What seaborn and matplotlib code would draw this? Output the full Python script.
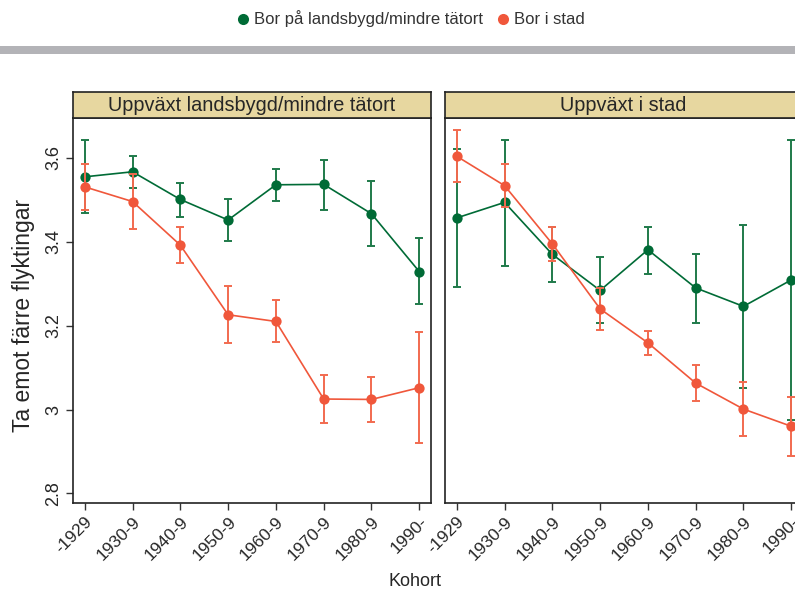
import numpy as np
import pandas as pd
import matplotlib
matplotlib.use("Agg")
import matplotlib.pyplot as plt
from matplotlib.lines import Line2D
from matplotlib.patches import Rectangle
import seaborn as sns

# Data
kohorter = ["-1929", "1930-9", "1940-9", "1950-9", "1960-9", "1970-9", "1980-9", "1990-"]
paneler = ["Uppväxt landsbygd/mindre tätort", "Uppväxt i stad"]
grupper = ["Bor på landsbygd/mindre tätort", "Bor i stad"]

# Uppväxt landsbygd/mindre tätort
land_bor_land = [3.555, 3.567, 3.501, 3.452, 3.536, 3.537, 3.467, 3.329]
land_bor_land_lo = [3.468, 3.529, 3.460, 3.402, 3.498, 3.477, 3.391, 3.252]
land_bor_land_hi = [3.643, 3.605, 3.540, 3.501, 3.574, 3.596, 3.544, 3.408]
land_bor_stad = [3.531, 3.496, 3.392, 3.226, 3.210, 3.025, 3.024, 3.052]
land_bor_stad_lo = [3.477, 3.430, 3.350, 3.158, 3.160, 2.967, 2.970, 2.920]
land_bor_stad_hi = [3.585, 3.562, 3.435, 3.295, 3.260, 3.082, 3.077, 3.186]

# Uppväxt i stad
stad_bor_land = [3.457, 3.494, 3.370, 3.284, 3.381, 3.290, 3.246, 3.309]
stad_bor_land_lo = [3.292, 3.342, 3.305, 3.206, 3.324, 3.206, 3.052, 2.975]
stad_bor_land_hi = [3.622, 3.644, 3.435, 3.363, 3.436, 3.372, 3.439, 3.643]
stad_bor_stad = [3.604, 3.534, 3.395, 3.240, 3.159, 3.063, 3.001, 2.960]
stad_bor_stad_lo = [3.542, 3.483, 3.355, 3.189, 3.129, 3.020, 2.937, 2.890]
stad_bor_stad_hi = [3.666, 3.585, 3.435, 3.291, 3.188, 3.107, 3.065, 3.031]

farger = {grupper[0]: "#006B36", grupper[1]: "#F0573B"}
felfarger = {grupper[0]: "#1F7A4A", grupper[1]: "#F26A4F"}

rows = []
serier = [
    (paneler[0], grupper[0], land_bor_land, land_bor_land_lo, land_bor_land_hi),
    (paneler[0], grupper[1], land_bor_stad, land_bor_stad_lo, land_bor_stad_hi),
    (paneler[1], grupper[0], stad_bor_land, stad_bor_land_lo, stad_bor_land_hi),
    (paneler[1], grupper[1], stad_bor_stad, stad_bor_stad_lo, stad_bor_stad_hi),
]
for panel, grupp, m, lo, hi in serier:
    for i, k in enumerate(kohorter):
        rows.append({"panel": panel, "grupp": grupp, "pos": i, "kohort": k,
                     "medel": m[i], "lo": lo[i], "hi": hi[i]})
df = pd.DataFrame(rows)

sns.set_style("white")
plt.rcParams["font.family"] = ["Liberation Sans", "DejaVu Sans"]

W, H = 795, 594
fig = plt.figure(figsize=(W / 100, H / 100), dpi=100)

def fx(px):
    return px / W

def fy(py):
    return 1 - py / H

ax_left = [73.3, 445.3]
ax_w = 357.4
ax_top, ax_bot = 117.7, 503
strip_top = 92

for j, panel in enumerate(paneler):
    x0 = ax_left[j]
    ax = fig.add_axes([fx(x0), fy(ax_bot), ax_w / W, (ax_bot - ax_top) / H])
    sub = df[df["panel"] == panel]
    for grupp in grupper:
        d = sub[sub["grupp"] == grupp]
        ax.errorbar(d["pos"], d["medel"],
                    yerr=[d["medel"] - d["lo"], d["hi"] - d["medel"]],
                    fmt="none", ecolor=felfarger[grupp], elinewidth=1.4,
                    capsize=3, capthick=1.4)
        sns.lineplot(data=d, x="pos", y="medel", color=farger[grupp], marker="o",
                     markersize=7.4, markeredgewidth=0, linewidth=1.2,
                     legend=False, ax=ax)
    ax.set_xlim(-0.24, 7.24)
    ax.set_ylim(2.777, 3.696)
    ax.set_xticks(range(len(kohorter)))
    ax.set_xticklabels(kohorter, rotation=45, ha="right", va="top",
                       rotation_mode="anchor", fontsize=12.5)
    ax.set_xlabel("")
    ax.set_ylabel("")
    ax.tick_params(axis="x", direction="out", length=5, width=1,
                   color="#333333", pad=3, bottom=True)
    for s in ax.spines.values():
        s.set_color("#222222")
        s.set_linewidth(1.2)
    if j == 0:
        ax.set_yticks([2.8, 3.0, 3.2, 3.4, 3.6])
        ax.set_yticklabels(["2.8", "3", "3.2", "3.4", "3.6"], rotation=90,
                           va="center", fontsize=13)
        ax.tick_params(axis="y", direction="out", length=5, width=1,
                       color="#333333", pad=3, left=True)
        ax.set_ylabel("Ta emot färre flyktingar", fontsize=16.5)
        ax.yaxis.set_label_coords(-0.106, 0.488)
    else:
        ax.set_yticks([])

    sax = fig.add_axes([fx(x0), fy(ax_top), ax_w / W, (ax_top - strip_top) / H])
    sax.set_facecolor("#E7D7A0")
    sax.set_xticks([])
    sax.set_yticks([])
    for s in sax.spines.values():
        s.set_color("#222222")
        s.set_linewidth(1.2)
    if j == 0:
        sax.text(0.5, 0.46, panel, ha="center", va="center", fontsize=14.3,
                 transform=sax.transAxes)
    else:
        sax.text((623 - x0) / ax_w, 0.46, panel, ha="center", va="center",
                 fontsize=14.3, transform=sax.transAxes)

fig.text(fx(415), fy(581), "Kohort", ha="center", va="center", fontsize=13)

fig.add_artist(Rectangle((0, fy(53.5)), 1, 7.5 / H, transform=fig.transFigure,
                         facecolor="#B3B3B7", edgecolor="none"))

handles = [Line2D([], [], color=farger[g], marker="o", linestyle="none",
                  markersize=8, markeredgewidth=0) for g in grupper]
fig.legend(handles, grupper, loc="center", bbox_to_anchor=(fx(410), fy(19)),
           ncol=2, frameon=False, fontsize=12, handletextpad=0.15,
           columnspacing=0.7, handlelength=1.0, labelcolor="#333333")

fig.savefig("out.png", dpi=100)
